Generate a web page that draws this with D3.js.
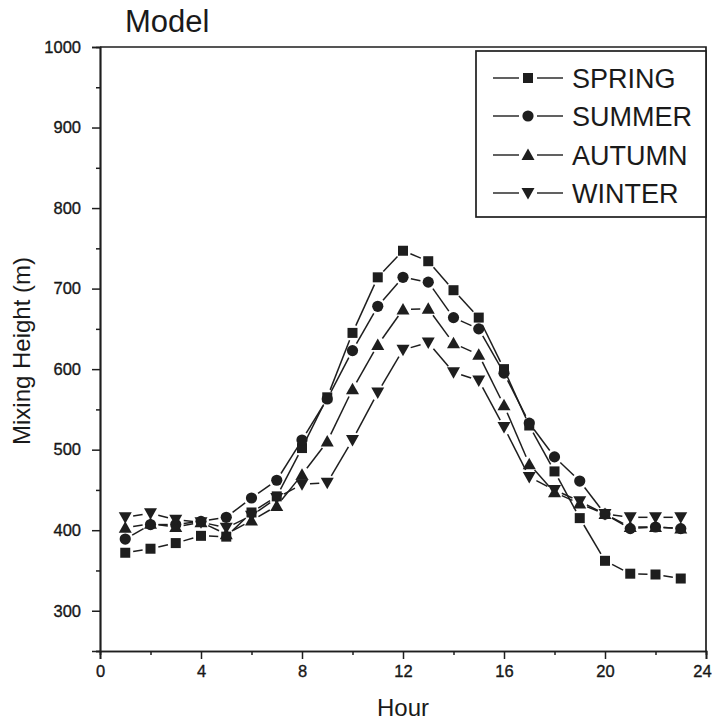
<!DOCTYPE html>
<html>
<head>
<meta charset="utf-8">
<script src="https://cdn.jsdelivr.net/npm/d3@7/dist/d3.min.js"></script>
<style>
  html, body { margin: 0; padding: 0; background: #fff; }
  svg { display: block; }
  text { font-family: "Liberation Sans", Arial, Helvetica, sans-serif; fill: #1a1a1a; }
</style>
</head>
<body>
<svg id="chart" width="714" height="723"></svg>
<script>
// Diurnal mixing height by season (model output)
const hours = [1, 2, 3, 4, 5, 6, 7, 8, 9, 10, 11, 12, 13, 14, 15, 16, 17, 18, 19, 20, 21, 22, 23];
const spring = [372, 377, 384, 393, 392, 422, 442, 502, 565, 645, 714, 747, 734, 698, 664, 600, 530, 473, 415, 362, 346, 345, 340];
const summer = [389, 407, 407, 411, 416, 440, 462, 512, 563, 623, 678, 714, 708, 664, 650, 595, 533, 491, 461, 420, 402, 404, 402];
const autumn = [403, 408, 404, 410, 395, 412, 430, 469, 510, 575, 630, 674, 675, 632, 618, 555, 482, 447, 433, 420, 404, 404, 402];
const winter = [416, 421, 413, 410, 403, 418, 440, 457, 459, 512, 571, 624, 633, 596, 586, 528, 466, 450, 436, 420, 416, 416, 416];

const seriesNames = ["SPRING", "SUMMER", "AUTUMN", "WINTER"];
const seriesValues = [spring, summer, autumn, winter];
const seriesSymbols = ["square", "circle", "up", "down"];

const xTicks = [0, 4, 8, 12, 16, 20, 24];
const xMinorTicks = [2, 6, 10, 14, 18, 22];
const yTicks = [300, 400, 500, 600, 700, 800, 900, 1000];
const yMinorTicks = [250, 350, 450, 550, 650, 750, 850, 950];

const ink = "#1e1e1e";
const svg = d3.select("#chart");
const m = { left: 100, right: 706, top: 47, bottom: 651 };

const x = d3.scaleLinear().domain([0, 24]).range([m.left, m.right]);
const y = d3.scaleLinear().domain([250, 1000]).range([m.bottom, m.top]);

// frame (top and right edges)
svg.append("path")
  .attr("d", `M${m.left},${m.top}H${m.right}V${m.bottom}`)
  .attr("fill", "none").attr("stroke", ink).attr("stroke-width", 1.7);

// axes
function styleAxis(g) {
  g.select(".domain").attr("stroke", ink).attr("stroke-width", 1.7);
  g.selectAll(".tick line").attr("stroke", ink).attr("stroke-width", 1.5);
  g.selectAll(".tick text").attr("fill", "#111").style("font-size", "16.5px")
    .style("font-family", '"Liberation Sans", Arial, sans-serif')
    .attr("stroke", "#111").attr("stroke-width", 0.35);
}

svg.append("g").attr("transform", `translate(0,${m.bottom})`)
  .call(d3.axisBottom(x).tickValues(xMinorTicks).tickSize(4).tickFormat(""))
  .call(styleAxis);
const xAxis = svg.append("g").attr("transform", `translate(0,${m.bottom})`)
  .call(d3.axisBottom(x).tickValues(xTicks).tickSize(8).tickPadding(6).tickFormat(d3.format("d")))
  .call(styleAxis);
// keep the last label inside the page edge
xAxis.selectAll(".tick").filter(d => d === 24).select("text").attr("dx", -4);

svg.append("g").attr("transform", `translate(${m.left},0)`)
  .call(d3.axisLeft(y).tickValues(yMinorTicks).tickSize(4).tickFormat(""))
  .call(styleAxis);
svg.append("g").attr("transform", `translate(${m.left},0)`)
  .call(d3.axisLeft(y).tickValues(yTicks).tickSize(8).tickPadding(11).tickFormat(d3.format("d")))
  .call(styleAxis);

// titles
svg.append("text").attr("x", 125).attr("y", 32)
  .style("font-size", "31px").text("Model");
svg.append("text").attr("x", (m.left + m.right) / 2).attr("y", 716)
  .attr("text-anchor", "middle").style("font-size", "24px").text("Hour");
svg.append("text")
  .attr("transform", `translate(30,${(m.top + m.bottom) / 2 + 2}) rotate(-90)`)
  .attr("text-anchor", "middle").style("font-size", "24px").text("Mixing Height (m)");

// marker shapes
function marker(sel, kind) {
  if (kind === "square") {
    sel.append("rect").attr("x", -5).attr("y", -5).attr("width", 10).attr("height", 10);
  } else if (kind === "circle") {
    sel.append("circle").attr("r", 5.6);
  } else if (kind === "up") {
    sel.append("path").attr("d", "M0,-6.5L6.5,5L-6.5,5Z");
  } else {
    sel.append("path").attr("d", "M0,6.5L6.5,-5L-6.5,-5Z");
  }
  sel.selectAll("*").attr("fill", ink);
}

// connecting segments, broken just short of each marker
const gap = 8;
const plot = svg.append("g");
seriesValues.forEach((vals) => {
  const pts = hours.map((h, i) => [x(h), y(vals[i])]);
  const g = plot.append("g");
  for (let i = 0; i < pts.length - 1; i++) {
    const [x0, y0] = pts[i], [x1, y1] = pts[i + 1];
    const len = Math.hypot(x1 - x0, y1 - y0);
    if (len <= 2 * gap) continue;
    const ux = (x1 - x0) / len, uy = (y1 - y0) / len;
    g.append("line")
      .attr("x1", x0 + ux * gap).attr("y1", y0 + uy * gap)
      .attr("x2", x1 - ux * gap).attr("y2", y1 - uy * gap)
      .attr("stroke", ink).attr("stroke-width", 1.5);
  }
});
seriesValues.forEach((vals, si) => {
  plot.append("g").selectAll("g").data(hours).join("g")
    .attr("transform", (h, i) => `translate(${x(h)},${y(vals[i])})`)
    .each(function () { marker(d3.select(this), seriesSymbols[si]); });
});

// legend
const legend = svg.append("g");
legend.append("rect")
  .attr("x", 476).attr("y", 51).attr("width", m.right - 476).attr("height", 166)
  .attr("fill", "#fff").attr("stroke", ink).attr("stroke-width", 1.7);
const legendY = [78, 116, 155, 193];
seriesNames.forEach((name, i) => {
  const row = legend.append("g").attr("transform", `translate(0,${legendY[i]})`);
  row.append("line").attr("x1", 493).attr("x2", 519).attr("stroke", ink).attr("stroke-width", 1.4);
  row.append("line").attr("x1", 537).attr("x2", 563).attr("stroke", ink).attr("stroke-width", 1.4);
  const mk = row.append("g").attr("transform", "translate(528,0)");
  marker(mk, seriesSymbols[i]);
  row.append("text").attr("x", 572).attr("y", 10).style("font-size", "27px").text(name);
});
</script>
</body>
</html>
